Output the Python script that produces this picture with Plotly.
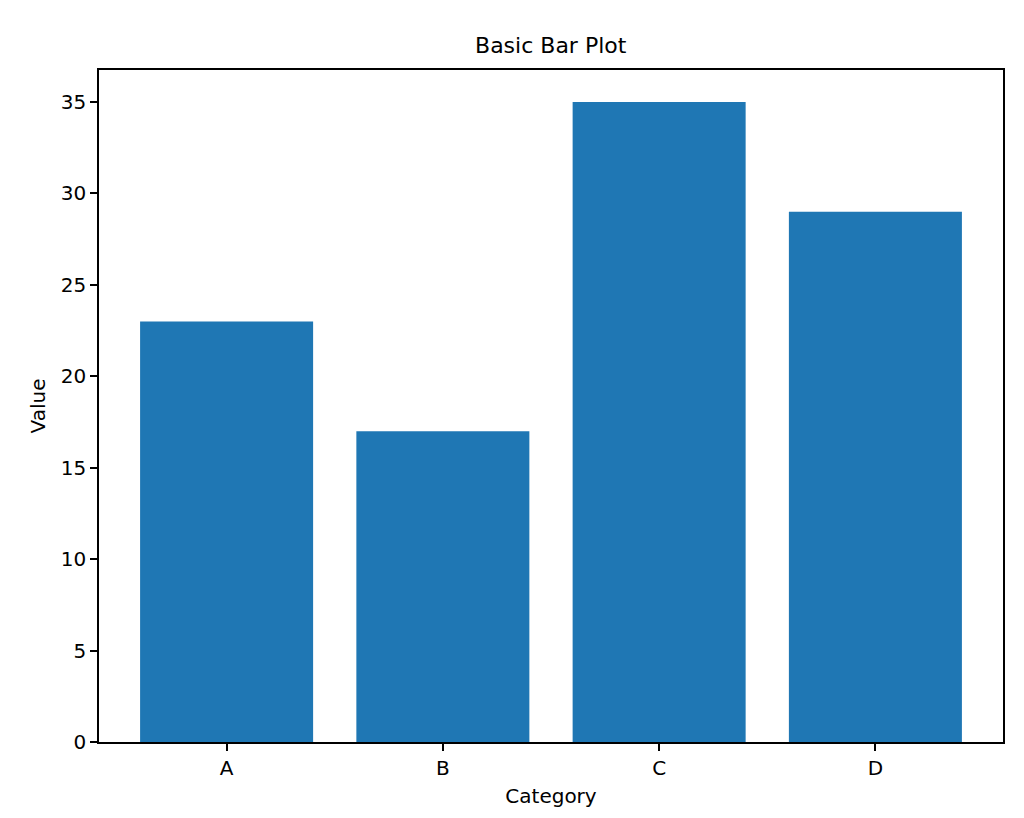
import plotly.graph_objects as go

categories = ["A", "B", "C", "D"]
values = [23, 17, 35, 29]
yticks = [0, 5, 10, 15, 20, 25, 30, 35]

fig = go.Figure(go.Bar(x=categories, y=values, marker_color="#1f77b4", width=0.8, marker_line_width=0))
axis_common = dict(showline=True, linecolor="black", linewidth=1.5, mirror=True, ticks="outside",
                   ticklen=7, tickwidth=1.5, tickcolor="black", showgrid=False, zeroline=False,
                   tickfont=dict(size=20, color="black"))
fig.update_layout(
    width=1024, height=818,
    margin=dict(l=91, r=29, t=62, b=84),
    paper_bgcolor="white", plot_bgcolor="white",
    font=dict(family="DejaVu Sans", color="black"),
    title=dict(text="Basic Bar Plot", x=0.53, xanchor="center", y=0.955, yanchor="middle", font=dict(size=22)),
    xaxis=dict(title=dict(text="Category", font=dict(size=20), standoff=10), range=[-0.59, 3.59], **axis_common),
    yaxis=dict(title=dict(text="Value", font=dict(size=20), standoff=10), range=[0, 36.75],
               tickvals=yticks, **axis_common),
    bargap=0.2,
)
fig.write_html("out.html")
